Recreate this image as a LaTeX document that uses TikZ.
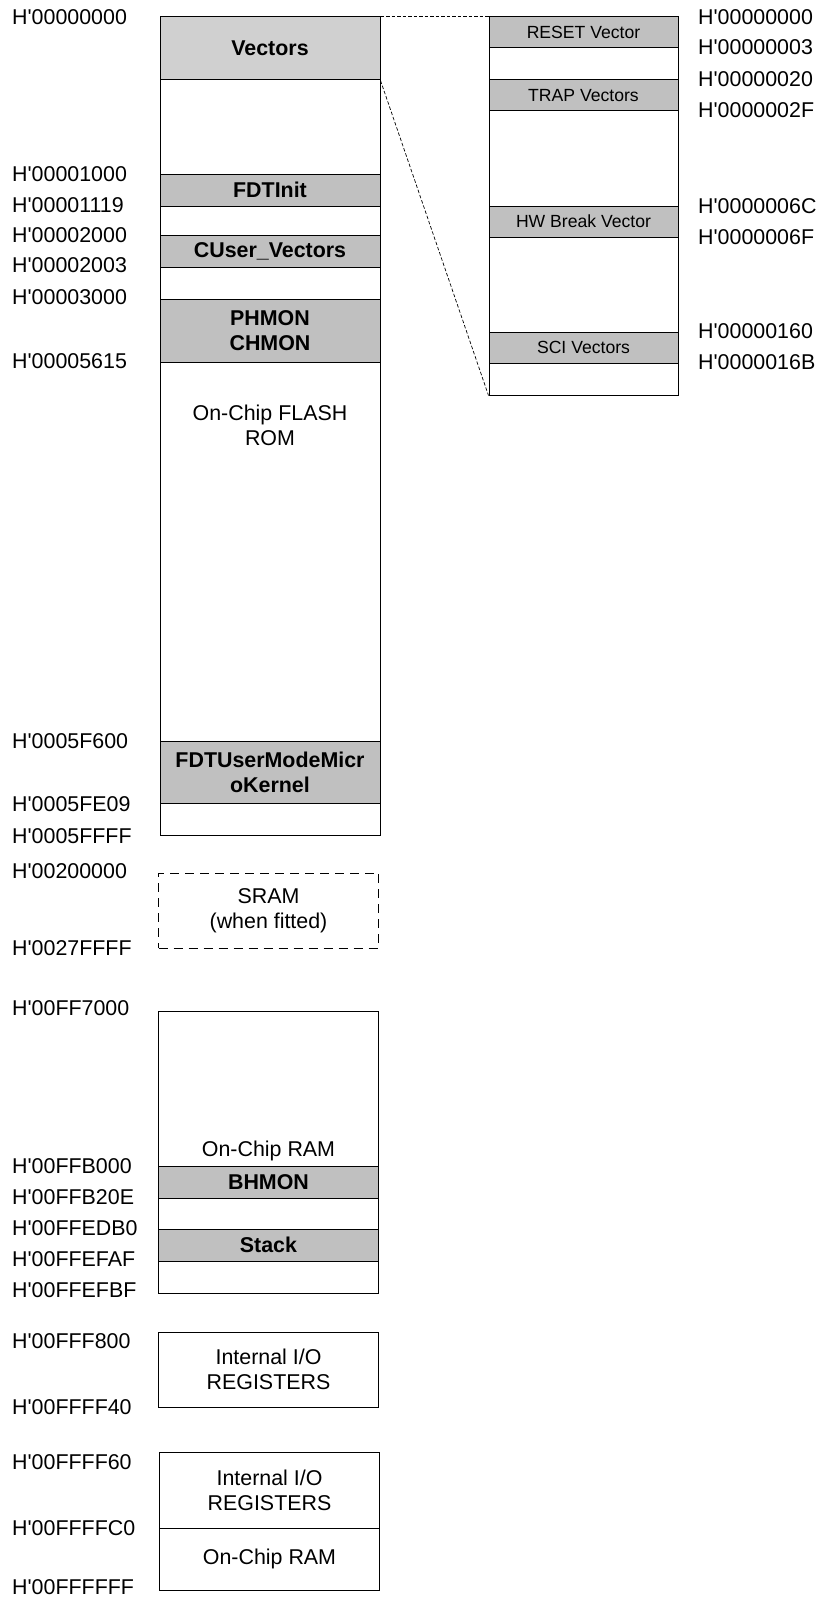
\documentclass[tikz,border=0pt]{standalone}
\usepackage{fontspec}
\setmainfont{Liberation Sans}[Ligatures=TeXOff]
\definecolor{lightgrey}{HTML}{D0D0D0}
\definecolor{midgrey}{HTML}{C0C0C0}
\tikzstyle{region}=[draw,line width=1pt,inner sep=0pt,align=center,minimum width=220pt,font=\fontsize{21.4}{25}\selectfont]
\tikzstyle{used}=[region,fill=midgrey,font=\fontsize{21.4}{25}\selectfont\bfseries]
\tikzstyle{vecblock}=[used,fill=lightgrey]
\tikzstyle{vecslot}=[region,minimum width=189pt,font=\fontsize{17.6}{20}\selectfont]
\tikzstyle{optional}=[region,draw=black,dash pattern=on 9pt off 6pt]
\tikzstyle{addr}=[anchor=west,inner sep=0pt,font=\fontsize{21.4}{25}\selectfont]
\tikzstyle{caption}=[inner sep=0pt,align=center,font=\fontsize{21.4}{25}\selectfont]
\tikzstyle{zoom line}=[draw,line width=0.7pt,dash pattern=on 3.5pt off 2pt]

\begin{document}
\begin{tikzpicture}[x=1pt,y=-1pt]
\useasboundingbox (0,0) rectangle (820,1600);
\foreach \name/\x/\top/\bot/\kind/\txt in {vectors/270/17/80/2/Vectors, g1/270/80/174/0/{},
                 fdtinit/270/174/206/1/FDTInit, g2/270/206/235/0/{},
                 cuser/270/235/267/1/CUser\_Vectors, g3/270/267/299/0/{},
                 hmon/270/299/362/1/{PHMON\\CHMON}, flash/270/362/741/0/{},
                 kernel/270/741/803/1/{FDTUserModeMicr\\oKernel}, g4/270/803/835/0/{},
                 reset/583.5/17/48/4/RESET Vector, r1/583.5/48/80/3/{},
                 trap/583.5/80/111/4/TRAP Vectors, r2/583.5/111/206/3/{},
                 hwbrk/583.5/206/237/4/HW Break Vector, r3/583.5/237/332/3/{},
                 sci/583.5/332/363/4/SCI Vectors, r4/583.5/363/395/3/{},
                 ram/268.5/1011/1166/0/{}, bhmon/268.5/1166/1198/1/BHMON,
                 s1/268.5/1198/1229/0/{}, stack/268.5/1229/1261/1/Stack,
                 s2/268.5/1261/1293/0/{}}{
  \ifcase\kind
  \node[region,minimum height={(\bot-\top)*1pt}] (\name) at (\x,{(\top+\bot)/2}) {\txt};
  \or
  \node[used,minimum height={(\bot-\top)*1pt}] (\name) at (\x,{(\top+\bot)/2}) {\txt};
  \or
  \node[vecblock,minimum height={(\bot-\top)*1pt}] (\name) at (\x,{(\top+\bot)/2}) {\txt};
  \or
  \node[vecslot,minimum height={(\bot-\top)*1pt}] (\name) at (\x,{(\top+\bot)/2}) {\txt};
  \or
  \node[vecslot,fill=midgrey,minimum height={(\bot-\top)*1pt}] (\name) at (\x,{(\top+\bot)/2}) {\txt};
  \fi
}
\node[caption] (flashtxt) at (270,425) {On-Chip FLASH\\ROM};
\node[caption] (ramtxt) at (268.5,1151) {On-Chip RAM};
\node[optional,minimum height=75pt] (sram) at (268.5,910.5) {SRAM\\(when fitted)};
\node[region,minimum height=75pt] (io1) at (268.5,1369.5) {Internal I/O\\REGISTERS};
\node[region,minimum height=76pt] (io2) at (269.5,1490) {Internal I/O\\REGISTERS};
\node[region,minimum height=62pt] (ram2) at (269.5,1559) {On-Chip RAM};
\foreach \y/\addr in {17/00000000, 174/00001000, 205/00001119, 235/00002000,
                      265/00002003, 297/00003000, 361/00005615, 741/0005F600,
                      804/0005FE09, 836/0005FFFF, 871/00200000, 948/0027FFFF,
                      1008/00FF7000, 1166/00FFB000, 1197/00FFB20E, 1228/00FFEDB0,
                      1259/00FFEFAF, 1290/00FFEFBF, 1341/00FFF800, 1407/00FFFF40,
                      1462/00FFFF60, 1528/00FFFFC0, 1587/00FFFFFF}{
  \node[addr] (l\addr) at (12,\y) {H'\addr};
}
\foreach \y/\addr in {17/00000000, 47.5/00000003, 79/00000020, 110/0000002F,
                      206/0000006C, 237.5/0000006F, 331/00000160, 362/0000016B}{
  \node[addr] (r\addr) at (698,\y) {H'\addr};
}
\path[zoom line] (vectors.north east) -- (reset.north west);
\path[zoom line] (vectors.south east) -- (r4.south west);
\end{tikzpicture}
\end{document}
